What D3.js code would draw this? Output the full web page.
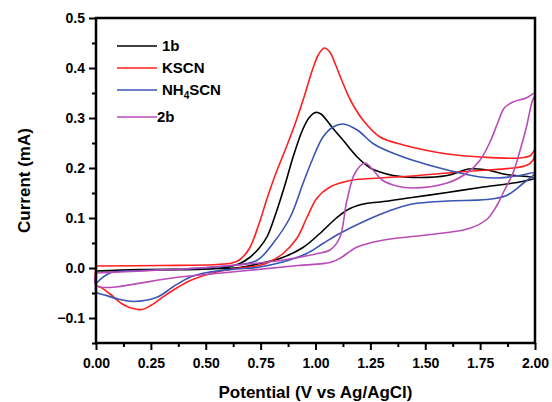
<!DOCTYPE html>
<html>
<head>
<meta charset="utf-8">
<script src="https://cdn.jsdelivr.net/npm/d3@7"></script>
<style>
  body { margin: 0; background: #fff; }
  svg text { font-family: "Liberation Sans", Arial, sans-serif; font-weight: bold; }
</style>
</head>
<body>
<svg id="cv"></svg>
<script>
// cyclic voltammograms, each loop is [potential, current]
let seriesNames = ["1b", "KSCN", "NH4SCN", "2b"];
let seriesColors = ["#000000", "#ff1f1f", "#3a55b4", "#b94cb8"];

let loop1b = [
  [0, -0.006], [0.3, -0.004], [0.55, -0.001], [0.62, 0.004], [0.656, 0.009], [0.70, 0.021],
  [0.74, 0.038], [0.78, 0.063], [0.82, 0.11], [0.86, 0.165], [0.90, 0.225], [0.94, 0.275],
  [0.97, 0.3], [1.0, 0.311], [1.025, 0.308], [1.05, 0.296], [1.08, 0.279], [1.125, 0.256],
  [1.19, 0.222], [1.25, 0.2], [1.294, 0.192], [1.353, 0.185], [1.476, 0.181], [1.60, 0.185],
  [1.70, 0.198], [1.78, 0.196], [1.87, 0.187], [2.0, 0.18],
  [1.93, 0.172], [1.75, 0.161], [1.60, 0.151], [1.44, 0.141], [1.294, 0.132], [1.23, 0.129],
  [1.157, 0.119], [1.098, 0.101], [1.02, 0.069], [0.943, 0.041], [0.85, 0.021], [0.747, 0.009],
  [0.656, 0.001], [0.5, -0.002], [0.2, -0.003], [0, -0.006]
];

let loopKSCN = [
  [0, 0.004], [0.3, 0.005], [0.55, 0.007], [0.62, 0.01], [0.656, 0.017], [0.70, 0.04],
  [0.74, 0.085], [0.78, 0.14], [0.82, 0.19], [0.87, 0.245], [0.91, 0.292], [0.95, 0.345],
  [0.985, 0.395], [1.015, 0.428], [1.04, 0.44], [1.065, 0.432], [1.09, 0.408], [1.12, 0.375],
  [1.16, 0.335], [1.216, 0.296],
  [1.294, 0.262], [1.40, 0.246], [1.52, 0.234], [1.60, 0.228], [1.75, 0.222], [1.93, 0.22],
  [1.98, 0.225], [2.0, 0.237],
  [1.99, 0.215], [1.96, 0.205], [1.90, 0.2], [1.75, 0.195], [1.60, 0.19], [1.44, 0.184],
  [1.294, 0.18], [1.157, 0.175], [1.066, 0.162], [1.007, 0.14], [0.96, 0.10], [0.916, 0.06],
  [0.85, 0.028], [0.78, 0.01], [0.72, 0.003], [0.656, 0.0], [0.55, -0.008], [0.43, -0.025],
  [0.36, -0.042], [0.305, -0.058], [0.25, -0.075], [0.21, -0.083], [0.16, -0.08], [0.12, -0.072],
  [0.064, -0.052], [0.02, -0.038], [0, -0.035], [0, 0.004]
];

let loopNH4SCN = [
  [0, -0.031], [0.064, -0.01], [0.2, -0.005], [0.4, -0.002], [0.6, 0.004], [0.733, 0.015],
  [0.806, 0.049], [0.884, 0.101], [0.943, 0.169], [0.984, 0.215], [1.034, 0.262], [1.08, 0.282],
  [1.125, 0.288], [1.19, 0.276], [1.262, 0.249], [1.34, 0.232], [1.44, 0.216], [1.6, 0.196],
  [1.75, 0.182], [1.83, 0.18], [1.93, 0.185], [2.0, 0.19],
  [1.945, 0.169], [1.87, 0.145], [1.78, 0.137], [1.6, 0.134], [1.44, 0.128], [1.34, 0.115],
  [1.23, 0.095], [1.11, 0.069], [1.034, 0.049], [0.96, 0.029], [0.85, 0.012], [0.733, 0.001],
  [0.64, -0.002], [0.505, -0.009], [0.43, -0.018], [0.35, -0.038], [0.28, -0.058], [0.17, -0.067],
  [0.1, -0.062], [0.04, -0.054], [0, -0.048], [0, -0.031]
];

let loop2b = [
  [0, -0.01], [0.5, 0.001], [0.84, 0.015], [1.0, 0.028], [1.066, 0.036], [1.11, 0.06],
  [1.143, 0.135], [1.18, 0.19], [1.225, 0.21], [1.262, 0.196], [1.307, 0.175], [1.37, 0.164],
  [1.44, 0.16], [1.6, 0.17], [1.69, 0.19], [1.75, 0.216], [1.795, 0.252], [1.83, 0.29],
  [1.86, 0.32], [1.9, 0.332], [1.96, 0.34], [2.0, 0.35],
  [1.985, 0.33], [1.96, 0.28], [1.935, 0.24], [1.9, 0.19], [1.86, 0.155], [1.83, 0.128],
  [1.78, 0.097], [1.70, 0.079], [1.6, 0.071], [1.44, 0.063], [1.3, 0.055], [1.19, 0.042],
  [1.11, 0.019], [1.066, 0.011], [0.92, 0.005], [0.69, -0.005], [0.38, -0.018], [0, -0.035],
  [0, -0.01]
];

let loops = [loop1b, loopKSCN, loopNH4SCN, loop2b];

let xTicks = [0, 0.25, 0.5, 0.75, 1.0, 1.25, 1.5, 1.75, 2.0];
let yTicks = [-0.1, 0.0, 0.1, 0.2, 0.3, 0.4, 0.5];

const width = 552;
const height = 402;

let svg = d3.select("svg#cv")
  .attr("width", width)
  .attr("height", height);

let margin = { top: 18, right: 17, bottom: 59, left: 96 };
let plotWidth = width - margin.left - margin.right;
let plotHeight = height - margin.top - margin.bottom;

let xScale = d3.scaleLinear().domain([0, 2]).range([0, plotWidth]);
let yScale = d3.scaleLinear().domain([-0.15, 0.5]).range([plotHeight, 0]);

let plot = svg.append("g")
  .attr("transform", "translate(" + margin.left + "," + margin.top + ")");

// curves first, frame on top
let line = d3.line()
  .x(d => xScale(d[0]))
  .y(d => yScale(d[1]))
  .curve(d3.curveCatmullRom.alpha(0.5));

plot.selectAll("path.cv")
  .data(loops)
  .enter().append("path")
  .attr("class", "cv")
  .attr("d", line)
  .attr("fill", "none")
  .attr("stroke", (d, i) => seriesColors[i])
  .attr("stroke-width", 1.6);

// minor ticks
let xMinor = d3.axisBottom(xScale)
  .tickValues(d3.range(0.125, 2, 0.25))
  .tickSize(4).tickFormat("");
let yMinor = d3.axisLeft(yScale)
  .tickValues([-0.15, -0.05, 0.05, 0.15, 0.25, 0.35, 0.45])
  .tickSize(4).tickFormat("");

let xAxis = d3.axisBottom(xScale)
  .tickValues(xTicks)
  .tickSize(7).tickPadding(8)
  .tickFormat(d3.format(".2f"));
let yAxis = d3.axisLeft(yScale)
  .tickValues(yTicks)
  .tickSize(7).tickPadding(4)
  .tickFormat(d3.format(".1f"));

let xGroup = plot.append("g").attr("transform", "translate(0," + plotHeight + ")");
xGroup.call(xAxis);
xGroup.append("g").call(xMinor);

let yGroup = plot.append("g");
yGroup.call(yAxis);
yGroup.append("g").call(yMinor);

svg.selectAll(".tick line").attr("stroke", "#000").attr("stroke-width", 2);
svg.selectAll(".domain").remove();
svg.selectAll(".tick text")
  .attr("fill", "#000")
  .style("font-size", "14px");

// frame
plot.append("rect")
  .attr("x", 0).attr("y", 0)
  .attr("width", plotWidth).attr("height", plotHeight)
  .attr("fill", "none")
  .attr("stroke", "#000")
  .attr("stroke-width", 2.5);

// axis titles
svg.append("text")
  .attr("x", margin.left + plotWidth / 2)
  .attr("y", 398)
  .attr("text-anchor", "middle")
  .style("font-size", "17px")
  .text("Potential (V vs Ag/AgCl)");

svg.append("text")
  .attr("transform", "translate(30," + (margin.top + yScale(0.175)) + ") rotate(-90)")
  .attr("text-anchor", "middle")
  .style("font-size", "17px")
  .text("Current (mA)");

// legend
let legendY = [46, 68, 90, 117];
let legend = svg.append("g");
seriesNames.forEach(function(name, i) {
  legend.append("line")
    .attr("x1", 117).attr("x2", 157)
    .attr("y1", legendY[i]).attr("y2", legendY[i])
    .attr("stroke", seriesColors[i])
    .attr("stroke-width", 1.6);
  let t = legend.append("text")
    .attr("x", i == 3 ? 157 : 162)
    .attr("y", legendY[i] + 5)
    .style("font-size", "15px");
  if (name == "NH4SCN") {
    t.append("tspan").text("NH");
    t.append("tspan").attr("dy", 4).style("font-size", "10px").text("4");
    t.append("tspan").attr("dy", -4).text("SCN");
  } else {
    t.text(name);
  }
});
</script>
</body>
</html>
